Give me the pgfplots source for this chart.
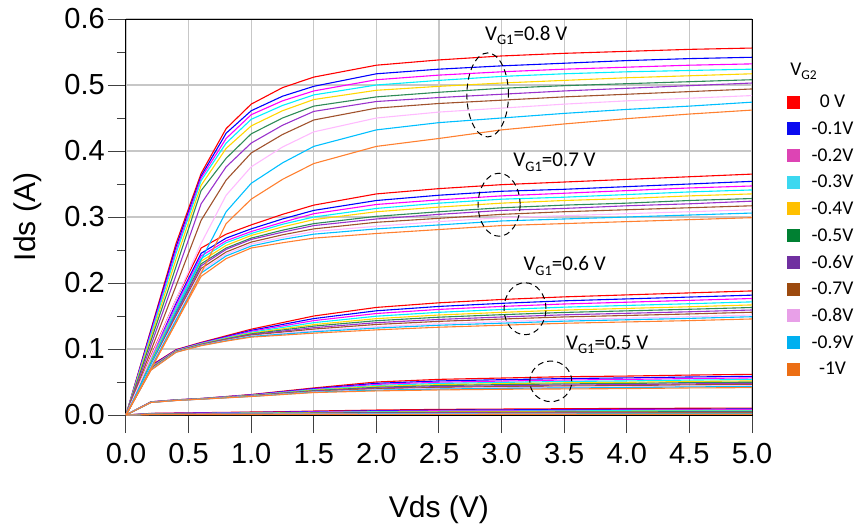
\documentclass[border=0pt]{standalone}
\usepackage{pgfplots}
\pgfplotsset{compat=1.18}
\usepackage{pgfplotstable}
\usepackage{fontspec}
\setmainfont{Liberation Sans}
\newfontfamily\calfont{Carlito}

\definecolor{c0}{HTML}{FF0000}
\definecolor{c1}{HTML}{0000FF}
\definecolor{c2}{HTML}{FF00FF}
\definecolor{c3}{HTML}{00F0FF}
\definecolor{c4}{HTML}{FFD700}
\definecolor{c5}{HTML}{2E8B57}
\definecolor{c6}{HTML}{9932CC}
\definecolor{c7}{HTML}{A0522D}
\definecolor{c8}{HTML}{FFBBFF}
\definecolor{c9}{HTML}{00BFFF}
\definecolor{c10}{HTML}{FF8030}

\definecolor{L0}{HTML}{FF0000}
\definecolor{L1}{HTML}{0A0AF0}
\definecolor{L2}{HTML}{DD44B4}
\definecolor{L3}{HTML}{3CD8F0}
\definecolor{L4}{HTML}{FFC000}
\definecolor{L5}{HTML}{008032}
\definecolor{L6}{HTML}{7030A0}
\definecolor{L7}{HTML}{9C4A0E}
\definecolor{L8}{HTML}{E8A0E8}
\definecolor{L9}{HTML}{00B0F0}
\definecolor{L10}{HTML}{EC6E14}

% VG1 = 0.8 V
\pgfplotstableread{
x c0 c1 c2 c3 c4 c5 c6 c7 c8 c9 c10
0 0 0 0 0 0 0 0 0 0 0 0
0.2 0.130 0.128 0.125 0.122 0.118 0.113 0.106 0.098 0.088 0.078 0.070
0.4 0.260 0.255 0.250 0.245 0.236 0.225 0.212 0.196 0.175 0.158 0.140
0.6 0.366 0.362 0.359 0.355 0.348 0.340 0.320 0.295 0.260 0.235 0.215
0.8 0.434 0.427 0.419 0.412 0.404 0.389 0.376 0.356 0.333 0.308 0.290
1.0 0.471 0.461 0.455 0.448 0.438 0.426 0.412 0.397 0.376 0.351 0.327
1.25 0.496 0.483 0.476 0.469 0.461 0.450 0.439 0.425 0.406 0.382 0.357
1.5 0.512 0.498 0.491 0.485 0.478 0.468 0.460 0.447 0.429 0.407 0.381
2.0 0.530 0.517 0.508 0.500 0.492 0.482 0.475 0.465 0.450 0.432 0.407
2.5 0.538 0.524 0.515 0.507 0.498 0.489 0.481 0.472 0.459 0.443 0.419
3.0 0.544 0.529 0.520 0.513 0.503 0.495 0.486 0.477 0.465 0.450 0.432
3.5 0.548 0.533 0.524 0.517 0.507 0.499 0.491 0.482 0.471 0.457 0.441
4.0 0.551 0.537 0.527 0.520 0.511 0.502 0.495 0.486 0.476 0.463 0.449
4.5 0.554 0.540 0.530 0.522 0.514 0.505 0.499 0.490 0.480 0.468 0.456
5.0 0.556 0.542 0.532 0.524 0.517 0.508 0.503 0.494 0.484 0.474 0.462
}\Fviii

% VG1 = 0.7 V
\pgfplotstableread{
x c0 c1 c2 c3 c4 c5 c6 c7 c8 c9 c10
0 0 0 0 0 0 0 0 0 0 0 0
0.2 0.090 0.087 0.085 0.083 0.081 0.079 0.077 0.076 0.074 0.072 0.070
0.4 0.175 0.169 0.166 0.162 0.159 0.155 0.153 0.150 0.147 0.144 0.140
0.6 0.253 0.245 0.241 0.237 0.233 0.229 0.226 0.222 0.218 0.215 0.210
0.8 0.274 0.268 0.264 0.261 0.257 0.253 0.251 0.247 0.244 0.241 0.237
1.0 0.288 0.282 0.278 0.275 0.272 0.268 0.266 0.262 0.259 0.256 0.253
1.25 0.304 0.297 0.292 0.289 0.285 0.280 0.277 0.273 0.269 0.266 0.261
1.5 0.318 0.310 0.305 0.300 0.296 0.290 0.287 0.282 0.278 0.274 0.268
2.0 0.335 0.325 0.319 0.313 0.308 0.301 0.297 0.292 0.286 0.282 0.275
2.5 0.343 0.333 0.326 0.321 0.315 0.308 0.304 0.298 0.293 0.288 0.281
3.0 0.349 0.339 0.332 0.327 0.321 0.314 0.310 0.304 0.299 0.294 0.287
3.5 0.353 0.342 0.336 0.330 0.325 0.318 0.313 0.308 0.302 0.297 0.290
4.0 0.357 0.346 0.340 0.334 0.328 0.321 0.317 0.311 0.305 0.300 0.293
4.5 0.361 0.350 0.344 0.338 0.332 0.325 0.320 0.314 0.308 0.303 0.296
5.0 0.365 0.354 0.347 0.341 0.335 0.328 0.324 0.317 0.311 0.306 0.299
}\Fvii

% VG1 = 0.6 V
\pgfplotstableread{
x c0 c1 c2 c3 c4 c5 c6 c7 c8 c9 c10
0 0 0 0 0 0 0 0 0 0 0 0
0.2 0.0750 0.0740 0.0730 0.0720 0.0715 0.0710 0.0700 0.0697 0.0690 0.0686 0.0680
0.4 0.0990 0.0984 0.0979 0.0974 0.0970 0.0966 0.0963 0.0960 0.0956 0.0953 0.0950
0.6 0.1100 0.1093 0.1087 0.1081 0.1075 0.1071 0.1066 0.1062 0.1057 0.1054 0.1050
0.8 0.1200 0.1188 0.1178 0.1169 0.1160 0.1153 0.1146 0.1139 0.1131 0.1126 0.1120
1.0 0.1300 0.1282 0.1268 0.1253 0.1240 0.1229 0.1218 0.1209 0.1197 0.1190 0.1180
1.25 0.1400 0.1372 0.1349 0.1326 0.1305 0.1288 0.1271 0.1256 0.1237 0.1225 0.1210
1.5 0.1500 0.1461 0.1430 0.1399 0.1370 0.1347 0.1323 0.1302 0.1276 0.1261 0.1240
2.0 0.1630 0.1579 0.1538 0.1497 0.1460 0.1429 0.1399 0.1372 0.1338 0.1317 0.1290
2.5 0.1700 0.1645 0.1600 0.1556 0.1515 0.1482 0.1448 0.1419 0.1382 0.1360 0.1330
3.0 0.1750 0.1692 0.1645 0.1598 0.1555 0.1520 0.1485 0.1454 0.1415 0.1391 0.1360
3.5 0.1790 0.1730 0.1682 0.1634 0.1590 0.1554 0.1518 0.1486 0.1446 0.1422 0.1390
4.0 0.1820 0.1759 0.1709 0.1660 0.1615 0.1578 0.1541 0.1508 0.1467 0.1443 0.1410
4.5 0.1850 0.1787 0.1737 0.1686 0.1640 0.1602 0.1564 0.1531 0.1489 0.1464 0.1430
5.0 0.1880 0.1816 0.1765 0.1714 0.1668 0.1629 0.1591 0.1557 0.1515 0.1489 0.1455
}\Fvi

% VG1 = 0.5 V
\pgfplotstableread{
x c0 c1 c2 c3 c4 c5 c6 c7 c8 c9 c10
0 0 0 0 0 0 0 0 0 0 0 0
0.2 0.0200 0.0199 0.0197 0.0196 0.0195 0.0194 0.0193 0.0192 0.0191 0.0191 0.0190
0.4 0.0230 0.0229 0.0227 0.0226 0.0225 0.0224 0.0223 0.0222 0.0221 0.0221 0.0220
0.6 0.0250 0.0249 0.0247 0.0246 0.0245 0.0244 0.0243 0.0242 0.0241 0.0241 0.0240
0.8 0.0280 0.0277 0.0275 0.0272 0.0270 0.0268 0.0266 0.0265 0.0263 0.0262 0.0260
1.0 0.0310 0.0306 0.0302 0.0298 0.0295 0.0292 0.0290 0.0287 0.0284 0.0282 0.0280
1.25 0.0360 0.0353 0.0347 0.0341 0.0335 0.0331 0.0326 0.0322 0.0317 0.0314 0.0310
1.5 0.0410 0.0400 0.0391 0.0383 0.0375 0.0369 0.0362 0.0357 0.0350 0.0346 0.0340
2.0 0.0500 0.0480 0.0464 0.0447 0.0433 0.0420 0.0408 0.0397 0.0384 0.0376 0.0365
2.5 0.0540 0.0516 0.0497 0.0478 0.0460 0.0446 0.0431 0.0418 0.0402 0.0393 0.0380
3.0 0.0560 0.0535 0.0514 0.0494 0.0475 0.0460 0.0444 0.0431 0.0414 0.0404 0.0390
3.5 0.0580 0.0552 0.0530 0.0508 0.0488 0.0471 0.0454 0.0439 0.0421 0.0410 0.0395
4.0 0.0590 0.0562 0.0539 0.0516 0.0495 0.0478 0.0461 0.0446 0.0427 0.0415 0.0400
4.5 0.0605 0.0576 0.0552 0.0529 0.0508 0.0490 0.0472 0.0457 0.0437 0.0426 0.0410
5.0 0.0616 0.0586 0.0562 0.0538 0.0516 0.0497 0.0479 0.0463 0.0443 0.0431 0.0415
}\Fv

% VG1 = 0.4 V
\pgfplotstableread{
x c0 c1 c2 c3 c4 c5 c6 c7 c8 c9 c10
0 0 0 0 0 0 0 0 0 0 0 0
0.2 0.0025 0.0022 0.0020 0.0017 0.0015 0.0013 0.0011 0.0010 0.0008 0.0007 0.0005
0.4 0.0030 0.0026 0.0024 0.0021 0.0018 0.0016 0.0014 0.0012 0.0009 0.0008 0.0006
0.6 0.0035 0.0031 0.0027 0.0024 0.0021 0.0018 0.0016 0.0014 0.0011 0.0009 0.0007
0.8 0.0040 0.0035 0.0031 0.0028 0.0024 0.0021 0.0018 0.0016 0.0012 0.0011 0.0008
1.0 0.0045 0.0039 0.0035 0.0031 0.0027 0.0023 0.0020 0.0017 0.0013 0.0011 0.0008
1.25 0.0050 0.0044 0.0039 0.0034 0.0030 0.0026 0.0022 0.0019 0.0015 0.0012 0.0009
1.5 0.0060 0.0052 0.0046 0.0040 0.0035 0.0030 0.0025 0.0021 0.0016 0.0013 0.0009
2.0 0.0075 0.0065 0.0057 0.0050 0.0043 0.0037 0.0031 0.0026 0.0019 0.0015 0.0010
2.5 0.0085 0.0074 0.0065 0.0056 0.0048 0.0041 0.0034 0.0028 0.0021 0.0016 0.0010
3.0 0.0090 0.0078 0.0069 0.0059 0.0051 0.0043 0.0036 0.0030 0.0022 0.0017 0.0011
3.5 0.0095 0.0082 0.0072 0.0062 0.0053 0.0045 0.0038 0.0031 0.0023 0.0018 0.0011
4.0 0.0100 0.0087 0.0076 0.0066 0.0056 0.0048 0.0040 0.0033 0.0024 0.0019 0.0012
4.5 0.0102 0.0089 0.0078 0.0067 0.0057 0.0049 0.0041 0.0034 0.0025 0.0019 0.0012
5.0 0.0105 0.0091 0.0080 0.0069 0.0058 0.0050 0.0042 0.0034 0.0025 0.0019 0.0012
}\Fiv

\newcommand{\legsq}[1]{\addlegendimage{legend image code/.code={\fill[#1] (0bp,-6bp) rectangle (12bp,6bp);}}}
\newcommand{\legtxt}[1]{\makebox[40bp][c]{#1}}
\newcommand{\annfont}{\calfont\fontsize{21bp}{24bp}\selectfont}
\newcommand{\sub}[1]{\raisebox{-4.3bp}{\fontsize{14.5bp}{15bp}\selectfont #1}}
\newcommand{\ann}[1]{V\sub{G1}=#1 V}

\begin{document}
\begin{tikzpicture}
\path[use as bounding box] (-126bp,-109bp) rectangle (735bp,415bp);
\begin{axis}[
  at={(0,0)}, anchor=south west,
  scale only axis, width=626bp, height=396bp,
  xmin=0, xmax=5, ymin=0, ymax=0.6,
  clip=false,
  xtick={0,0.5,1,1.5,2,2.5,3,3.5,4,4.5,5},
  ytick={0,0.1,0.2,0.3,0.4,0.5,0.6},
  minor ytick={0.05,0.15,0.25,0.35,0.45,0.55},
  xtick pos=bottom, ytick pos=left,
  tick align=outside,
  major tick length=18bp, minor tick length=9bp,
  tick style={black!75, line width=1bp},
  grid=major,
  major grid style={black!22, line width=1.3bp},
  axis line style={black, line width=1bp},
  /pgf/number format/assume math mode=true,
  xticklabel style={font=\fontsize{29bp}{32bp}\selectfont, inner sep=0pt, yshift=-10bp,
    /pgf/number format/.cd, fixed, fixed zerofill, precision=1},
  yticklabel style={font=\fontsize{29bp}{32bp}\selectfont, inner sep=0pt, xshift=-3bp,
    /pgf/number format/.cd, fixed, fixed zerofill, precision=1},
  xlabel={Vds (V)}, ylabel={Ids (A)},
  label style={font=\fontsize{30bp}{34bp}\selectfont},
  xlabel style={at={(axis description cs:0.5,-0.2576)}, anchor=base, inner sep=0pt},
  ylabel style={at={(axis description cs:-0.1438,0.5)}, anchor=base, inner sep=0pt},
  legend style={at={(rel axis cs:1.0559,0.807)}, anchor=north west, draw=none, fill=none,
    inner sep=0pt, row sep=14.3bp, column sep=13bp,
    font=\calfont\fontsize{19.5bp}{21bp}\selectfont,
    nodes={inner sep=0pt, text height=12bp, text depth=0bp}},
]
\legsq{L0}\addlegendentry{\legtxt{0 V}}
\legsq{L1}\addlegendentry{\legtxt{-0.1V}}
\legsq{L2}\addlegendentry{\legtxt{-0.2V}}
\legsq{L3}\addlegendentry{\legtxt{-0.3V}}
\legsq{L4}\addlegendentry{\legtxt{-0.4V}}
\legsq{L5}\addlegendentry{\legtxt{-0.5V}}
\legsq{L6}\addlegendentry{\legtxt{-0.6V}}
\legsq{L7}\addlegendentry{\legtxt{-0.7V}}
\legsq{L8}\addlegendentry{\legtxt{-0.8V}}
\legsq{L9}\addlegendentry{\legtxt{-0.9V}}
\legsq{L10}\addlegendentry{\legtxt{-1V}}

\pgfplotsinvokeforeach{0,1,2,3,4,5,6,7,8,9,10}{
  \addplot[c#1, line width=1.1bp, forget plot] table[x=x, y=c#1] {\Fiv};
  \addplot[c#1, line width=1.1bp, forget plot] table[x=x, y=c#1] {\Fv};
  \addplot[c#1, line width=1.1bp, forget plot] table[x=x, y=c#1] {\Fvi};
  \addplot[c#1, line width=1.1bp, forget plot] table[x=x, y=c#1] {\Fvii};
  \addplot[c#1, line width=1.1bp, forget plot] table[x=x, y=c#1] {\Fviii};
}

% annotations
\draw[black, line width=1bp, dash pattern=on 6bp off 4bp] (axis cs:2.889,0.485) ellipse [x radius=20.8bp, y radius=42bp];
\draw[black, line width=1bp, dash pattern=on 6bp off 4bp] (axis cs:2.980,0.3186) ellipse [x radius=21bp, y radius=31.5bp];
\draw[black, line width=1bp, dash pattern=on 6bp off 4bp] (axis cs:3.187,0.161) ellipse [x radius=21bp, y radius=26bp];
\draw[black, line width=1bp, dash pattern=on 6bp off 4bp] (axis cs:3.393,0.051) ellipse [x radius=21bp, y radius=20.3bp];

\node[anchor=base west, inner sep=0pt, font=\annfont] at (axis cs:2.867,0.568) {\ann{0.8}};
\node[anchor=base west, inner sep=0pt, font=\annfont] at (axis cs:3.093,0.3762) {\ann{0.7}};
\node[anchor=base west, inner sep=0pt, font=\annfont] at (axis cs:3.174,0.2186) {\ann{0.6}};
\node[anchor=base west, inner sep=0pt, font=\annfont] at (axis cs:3.514,0.0995) {\ann{0.5}};

\node[anchor=base west, inner sep=0pt, font=\calfont\fontsize{19.5bp}{22bp}\selectfont] at (axis cs:5.304,0.515) {V\raisebox{-4bp}{\fontsize{13.5bp}{14bp}\selectfont G2}};
\end{axis}
\end{tikzpicture}
\end{document}
